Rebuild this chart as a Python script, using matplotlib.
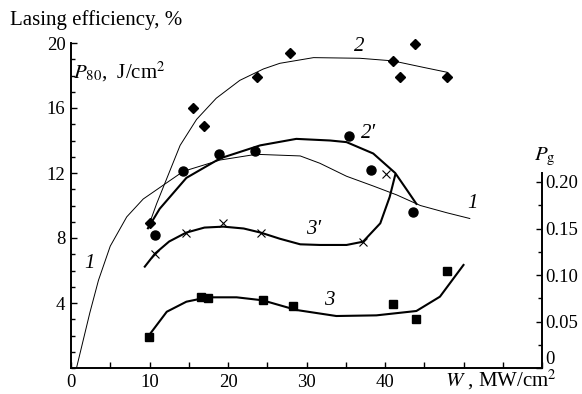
import matplotlib
matplotlib.use("Agg")
import matplotlib.pyplot as plt
from matplotlib.ticker import MultipleLocator, FixedLocator, FixedFormatter

plt.rcParams["font.family"] = ["Liberation Serif", "DejaVu Serif"]
plt.rcParams["mathtext.fontset"] = "stix"

# curve 1 (thin), left axis
c1_x = [0.7, 2.4, 3.5, 5.0, 7.1, 9.2, 11.3, 14.3, 19.0, 23.6, 29.2, 31.7, 35.1, 38.5, 41.5, 44.5, 47.9, 50.8]
c1_y = [0.0, 3.4, 5.4, 7.5, 9.3, 10.4, 11.1, 12.1, 12.8, 13.15, 13.05, 12.6, 11.8, 11.2, 10.65, 10.0, 9.55, 9.2]

# curve 2 (thin) and its diamonds
c2_x = [10.0, 10.9, 13.9, 16.0, 18.5, 21.5, 24.5, 26.6, 30.9, 36.8, 41.0, 44.9, 47.9]
c2_y = [8.9, 10.1, 13.7, 15.3, 16.6, 17.7, 18.4, 18.75, 19.1, 19.06, 18.9, 18.5, 18.2]
d2_x = [10.0, 15.5, 16.9, 23.7, 27.9, 41.0, 41.9, 43.8, 47.9]
d2_y = [8.9, 16.0, 14.9, 17.9, 19.4, 18.9, 17.9, 19.95, 17.9]

# curve 2' (thick) and its circles
c2p_x = [9.8, 11.3, 14.7, 19.0, 24.1, 28.7, 33.0, 35.1, 38.5, 41.3, 42.8, 44.0]
c2p_y = [8.6, 9.8, 11.7, 12.9, 13.7, 14.1, 14.0, 13.9, 13.2, 12.0, 10.95, 10.1]
d2p_x = [10.7, 14.3, 18.9, 23.5, 35.4, 38.2, 43.6]
d2p_y = [8.2, 12.1, 13.15, 13.35, 14.3, 12.2, 9.6]

# curve 3' (thick, Pg axis) and its crosses
c3p_x = [9.4, 10.7, 12.5, 14.65, 17.0, 19.4, 22.0, 24.2, 26.6, 29.2, 31.7, 35.1, 37.2, 39.4, 40.6, 41.3]
c3p_y = [0.109, 0.123, 0.136, 0.1455, 0.151, 0.152, 0.150, 0.1455, 0.139, 0.133, 0.1323, 0.1323, 0.1358, 0.1556, 0.184, 0.2075]
d3p_x = [10.7, 14.65, 19.4, 24.2, 37.2, 40.1]
d3p_y = [0.123, 0.1455, 0.1556, 0.1455, 0.1358, 0.2086]

# curve 3 (thick, Pg axis) and its squares
c3_x = [10.1, 12.2, 14.7, 17.4, 21.1, 24.4, 28.7, 33.8, 38.9, 44.0, 47.0, 50.0]
c3_y = [0.037, 0.0605, 0.0713, 0.076, 0.076, 0.0728, 0.0624, 0.0559, 0.0566, 0.0613, 0.0767, 0.1108]
d3_x = [9.94, 16.5, 17.4, 24.4, 28.3, 41.05, 44.0, 47.9]
d3_y = [0.0337, 0.076, 0.075, 0.0728, 0.067, 0.0685, 0.0523, 0.1046]

X_TICKS = [0, 5, 10, 15, 20, 25, 30, 35, 40, 45, 50, 55, 60]
X_LABELS = ["0", "", "10", "", "20", "", "30", "", "40", "", "", "", ""]
LEFT_TICKS = [4, 8, 12, 16, 20]
RIGHT_TICKS = [0, 0.05, 0.10, 0.15, 0.20]
RIGHT_LABELS = ["0", "0.05", "0.10", "0.15", "0.20"]

FS = 13.5    # tick labels
FT = 15      # axis titles and curve labels

fig = plt.figure(figsize=(5.82, 3.94), dpi=100)
ax = fig.add_axes([71 / 582, 26 / 394, 471 / 582, 325 / 394])
ax2 = ax.twinx()

ax.set_xlim(0, 60)
ax.set_ylim(0, 20)
ax2.set_ylim(0, 20 * 16.25 / 930)

# thin lines
ax.plot(c1_x, c1_y, color="black", lw=0.7)
ax.plot(c2_x, c2_y, color="black", lw=0.7)
ax.plot(d2_x, d2_y, ls="none", marker="D", ms=5.5, color="black", clip_on=False)
# thick lines
ax.plot(c2p_x, c2p_y, color="black", lw=1.5)
ax.plot(d2p_x, d2p_y, ls="none", marker="o", ms=6.5, color="black")
ax2.plot(c3p_x, c3p_y, color="black", lw=1.5)
ax2.plot(d3p_x, d3p_y, ls="none", marker="x", ms=6, mew=0.8, color="black")
ax2.plot(c3_x, c3_y, color="black", lw=1.5)
ax2.plot(d3_x, d3_y, ls="none", marker="s", ms=6, color="black")

# spines
for a in (ax, ax2):
    a.spines["top"].set_visible(False)
ax.spines["right"].set_visible(False)
ax2.spines["left"].set_visible(False)
ax2.spines["bottom"].set_visible(False)
ax2.spines["right"].set_bounds(0, 0.2097)
for s in ("left", "bottom"):
    ax.spines[s].set_linewidth(1.4)
ax2.spines["right"].set_linewidth(1.4)

# ticks
ax.xaxis.set_major_locator(FixedLocator(X_TICKS))
ax.xaxis.set_major_formatter(FixedFormatter(X_LABELS))
ax.yaxis.set_major_locator(FixedLocator(LEFT_TICKS))
ax.yaxis.set_minor_locator(MultipleLocator(1))
ax2.yaxis.set_major_locator(FixedLocator(RIGHT_TICKS))
ax2.yaxis.set_major_formatter(FixedFormatter(RIGHT_LABELS))
ax2.yaxis.set_minor_locator(FixedLocator([0.025, 0.075, 0.125, 0.175]))
ax.tick_params(axis="both", which="both", direction="in", width=1.0, labelsize=FS)
ax.tick_params(axis="x", pad=4)
ax.tick_params(axis="y", pad=4)
ax.tick_params(axis="both", which="major", length=4)
ax.tick_params(axis="y", which="minor", length=3)
ax2.tick_params(axis="y", which="both", direction="in", width=1.0, labelsize=FS, pad=2)
ax2.tick_params(axis="y", which="major", length=4)
ax2.tick_params(axis="y", which="minor", length=3)
ax2.get_yticklabels()[0].set_va("bottom")

# axis titles
fig.text(10 / 582, 1 - 20 / 394, "Lasing efficiency, %", fontsize=FT, va="center", ha="left")
ax.text(0.3, 18.2, "$P_{80}$,  J/cm$^2$", fontsize=FT, va="center", ha="left")
ax2.text(60.4, 0.227, "$P_{\\rm g}$", fontsize=FT, va="center", ha="center", clip_on=False)
ax.text(47.6, -1.1, "$W$ , MW/cm$^2$", fontsize=FT, va="baseline", ha="left", clip_on=False)

# curve labels
lab = dict(fontsize=FT, style="italic", ha="center", va="center")
ax.text(2.4, 6.4, "1", **lab)
ax.text(51.2, 10.1, "1", **lab)
ax.text(36.7, 19.8, "2", **lab)
ax.text(37.9, 14.4, "2\u2032", **lab)
ax.text(30.9, 8.5, "3\u2032", **lab)
ax2.text(32.9, 0.073, "3", **lab)

fig.savefig("out.png", dpi=100)
